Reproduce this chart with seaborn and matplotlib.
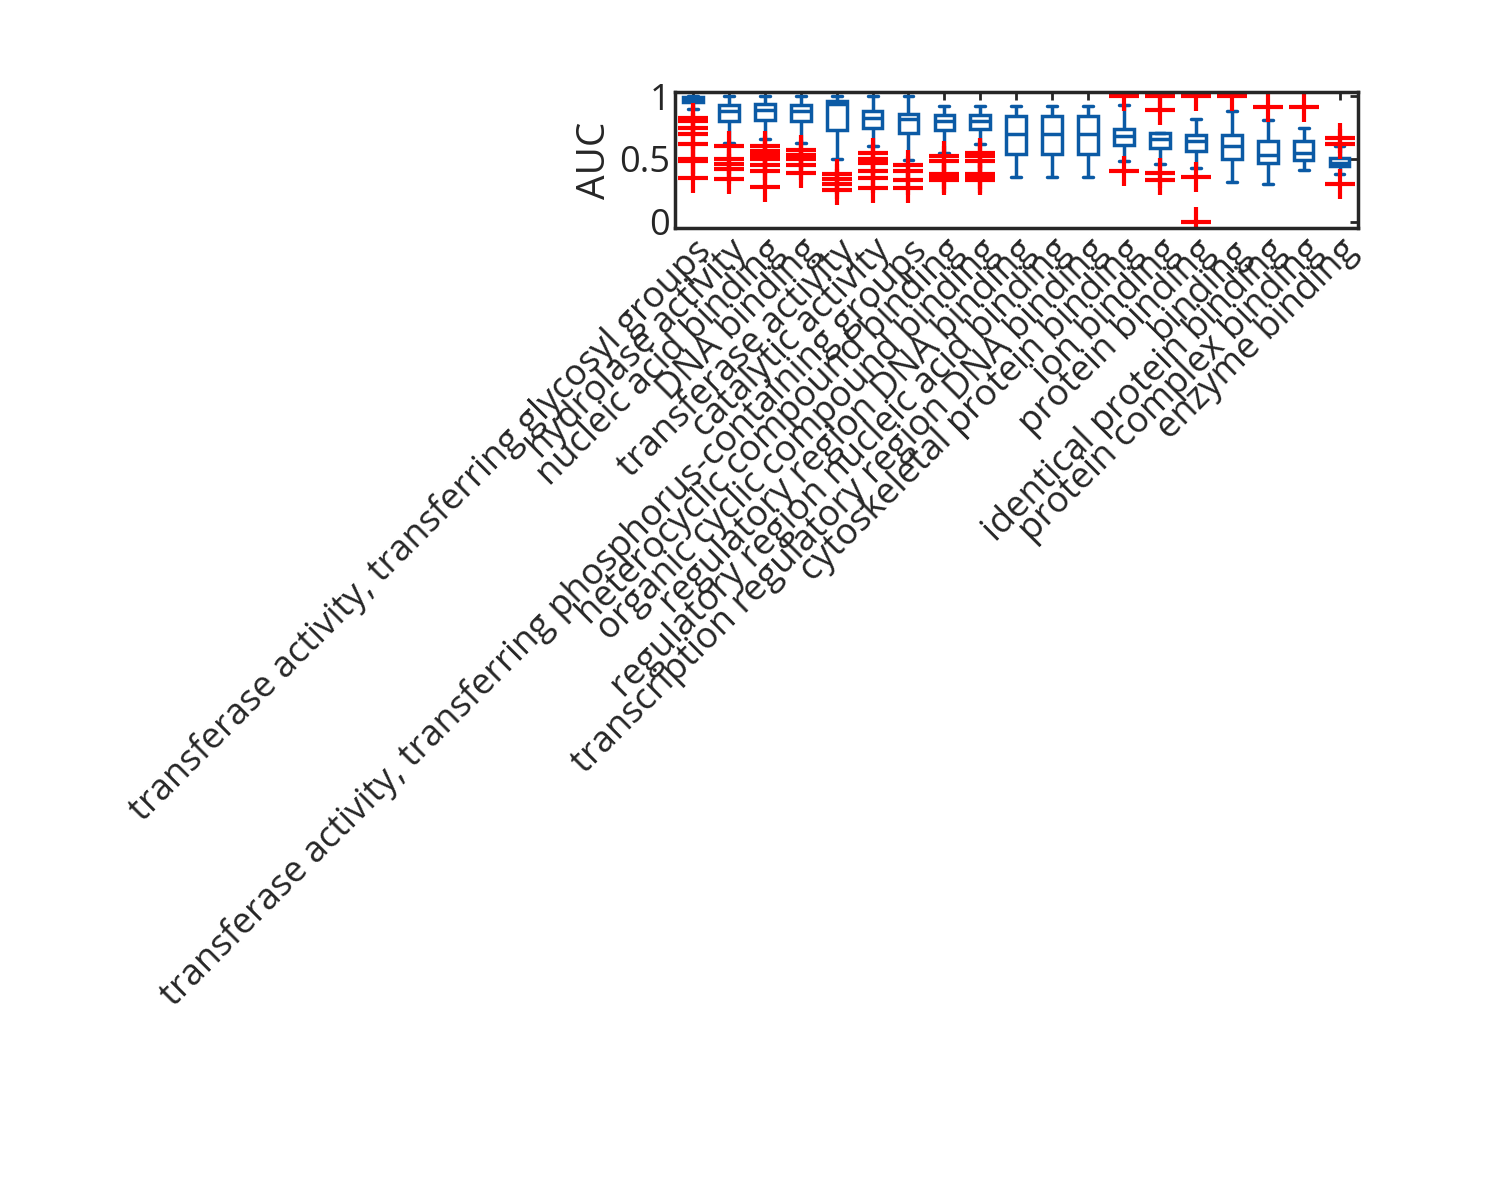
import matplotlib
matplotlib.use("Agg")
import matplotlib.pyplot as plt
import seaborn as sns
import pandas as pd

labels = ["transferase activity, transferring glycosyl groups", "hydrolase activity",
          "nucleic acid binding", "DNA binding", "transferase activity", "catalytic activity",
          "transferase activity, transferring phosphorus-containing groups",
          "heterocyclic compound binding", "organic cyclic compound binding",
          "regulatory region DNA binding", "regulatory region nucleic acid binding",
          "transcription regulatory region DNA binding", "cytoskeletal protein binding",
          "ion binding", "protein binding", "binding", "identical protein binding",
          "protein complex binding", "enzyme binding"]
# [low whisker, q1, median, q3, high whisker]
core = [[0.90, 0.95, 0.97, 0.99, 1.00], [0.68, 0.80, 0.88, 0.93, 1.00],
        [0.68, 0.81, 0.89, 0.94, 1.00], [0.63, 0.80, 0.88, 0.93, 1.00],
        [0.50, 0.73, 0.94, 0.96, 1.00], [0.60, 0.75, 0.83, 0.88, 1.00],
        [0.50, 0.71, 0.82, 0.86, 1.00], [0.60, 0.73, 0.80, 0.85, 0.92],
        [0.62, 0.74, 0.80, 0.85, 0.92], [0.36, 0.54, 0.70, 0.84, 0.92],
        [0.36, 0.54, 0.70, 0.84, 0.92], [0.36, 0.54, 0.70, 0.84, 0.92],
        [0.48, 0.61, 0.68, 0.74, 0.93], [0.46, 0.59, 0.66, 0.71, 0.89],
        [0.43, 0.56, 0.64, 0.69, 0.82], [0.32, 0.50, 0.60, 0.69, 0.88],
        [0.30, 0.47, 0.53, 0.64, 0.81], [0.41, 0.49, 0.55, 0.64, 0.75],
        [0.43, 0.44, 0.47, 0.51, 0.52]]
outliers = [[0.83, 0.80, 0.75, 0.70, 0.62, 0.50, 0.48, 0.35],
            [0.63, 0.60, 0.50, 0.46, 0.42, 0.34],
            [0.66, 0.60, 0.56, 0.53, 0.50, 0.45, 0.40, 0.28],
            [0.57, 0.53, 0.50, 0.45, 0.39],
            [0.38, 0.34, 0.30, 0.25],
            [0.55, 0.50, 0.47, 0.40, 0.35, 0.27],
            [0.49, 0.45, 0.40, 0.33, 0.27],
            [0.55, 0.52, 0.48, 0.38, 0.35, 0.33],
            [0.55, 0.52, 0.48, 0.38, 0.35, 0.33],
            [], [], [],
            [1.00, 0.40], [1.00, 0.39, 0.33], [1.00, 0.36, 0.00], [1.00], [0.91], [0.91],
            [0.67, 0.62, 0.60, 0.58, 0.38, 0.30]]

rows = []
k = 20
for lab, c, o in zip(labels, core, outliers):
    vals = [c[0]] + [c[1]] * k + [c[2]] * k + [c[3]] * k + [c[4]] + list(o)
    rows += [(lab, v) for v in vals]
df = pd.DataFrame(rows, columns=["term", "AUC"])

sns.set_style("white")
plt.rcParams['font.family'] = ['Open Sans', 'DejaVu Sans']
fig = plt.figure(figsize=(15, 12), dpi=100)
ax = fig.add_axes([0.45, 0.81, 0.455, 0.113])
blue = "#0b5aa5"
sns.boxplot(data=df, x="term", y="AUC", order=labels, ax=ax, width=0.55, whis=1.5,
            color="white", linecolor=blue, linewidth=2.5,
            flierprops=dict(marker="+", markeredgecolor="red", markersize=22, markeredgewidth=3),
            medianprops=dict(color=blue, linewidth=2.5))
ax.set_ylim(-0.05, 1.03)
ax.set_xlim(-0.5, len(labels) - 0.5)
ax.set_yticks([0, 0.5, 1])
ax.set_yticklabels(["0", "0.5", "1"])
ax.set_xlabel("")
ax.set_ylabel("AUC", fontsize=28, color="#262626")
ax.tick_params(axis="both", direction="in", length=6, width=2, top=True, right=True,
               labelsize=26, colors="#262626")
ax.set_xticks(range(len(labels)))
ax.set_xticklabels(labels, rotation=45, ha="right", rotation_mode="anchor", fontsize=26)
for s in ax.spines.values():
    s.set_linewidth(2.5)
    s.set_color("#262626")
fig.savefig("out.png")
